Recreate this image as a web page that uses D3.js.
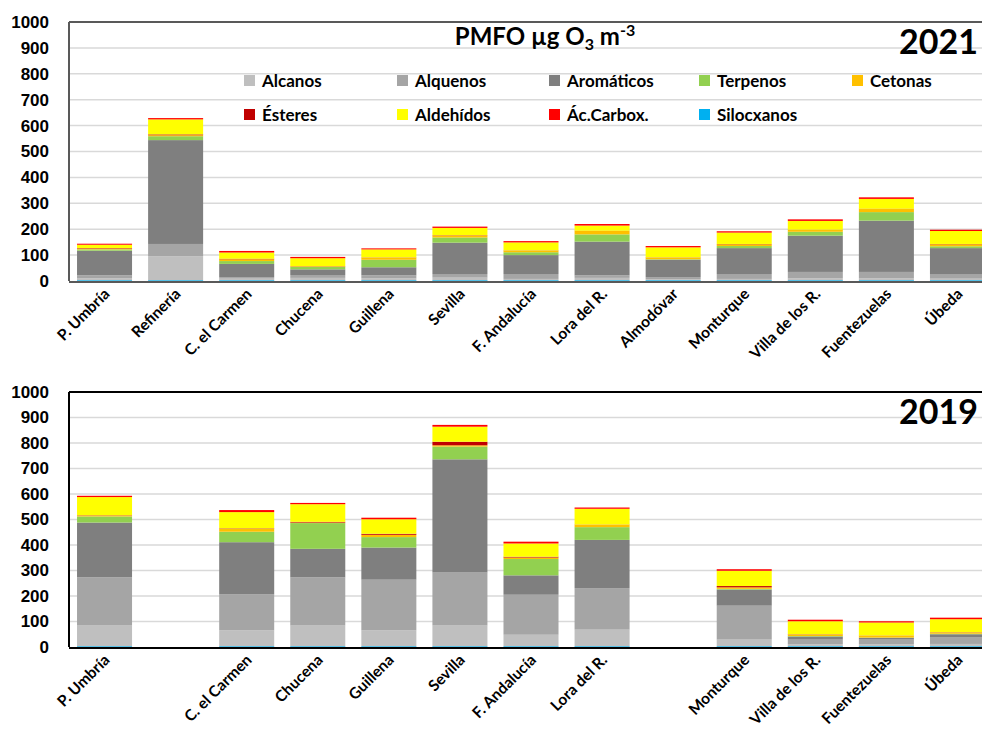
<!DOCTYPE html>
<html>
<head>
<meta charset="utf-8">
<script src="https://cdn.jsdelivr.net/npm/d3@7"></script>
<style>
  body { margin: 0; background: #fff; }
  svg { display: block; font-family: Lato, "Liberation Sans", sans-serif; }
  .tick-label { font-size: 17px; font-weight: bold; fill: #000; }
  .cat-label { font-size: 15.5px; font-weight: bold; fill: #000; }
  .legend-label { font-size: 17px; font-weight: bold; fill: #000; }
</style>
</head>
<body>
<svg width="982" height="744"></svg>
<script>
// Categories and series
const stations = ['P. Umbría', 'Refinería', 'C. el Carmen', 'Chucena', 'Guillena', 'Sevilla',
  'F. Andalucía', 'Lora del R.', 'Almodóvar', 'Monturque', 'Villa de los R.', 'Fuentezuelas', 'Úbeda']
const groups = ['Alcanos', 'Alquenos', 'Aromáticos', 'Terpenos', 'Cetonas', 'Ésteres', 'Aldehídos', 'Ác.Carbox.', 'Silocxanos']
const colors = ['#BFBFBF', '#A5A5A5', '#7F7F7F', '#92D050', '#FFC000', '#C00000', '#FFFF00', '#FF0000', '#00B0F0']
const yTicks = [0, 100, 200, 300, 400, 500, 600, 700, 800, 900, 1000]

// 2021 values per group (one value per station)
const silocxanos2021 = [3, 3, 3, 3, 3, 3, 3, 3, 3, 3, 3, 3, 3]
const alcanos2021    = [7, 92, 6, 9, 7, 10, 5, 9, 4, 5, 7, 7, 6]
const alquenos2021   = [12, 48, 6, 11, 12, 14, 19, 10, 8, 19, 25, 25, 18]
const aromaticos2021 = [95, 401, 51, 22, 31, 121, 73, 130, 67, 100, 140, 198, 100]
const terpenos2021   = [5, 15, 11, 9, 29, 20, 11, 28, 2, 8, 15, 33, 7]
const cetonas2021    = [3, 4, 7, 2, 8, 8, 6, 13, 6, 7, 7, 12, 8]
const esteres2021    = [2, 3, 2, 1, 1, 1, 1, 1, 1, 1, 1, 1, 1]
const aldehidos2021  = [13, 58, 24, 31, 31, 28, 31, 20, 39, 44, 34, 38, 50]
const carbox2021     = [4, 5, 6, 5, 4, 5, 5, 6, 5, 5, 6, 6, 5]

// 2019 values per group (Refinería and Almodóvar have no data)
const silocxanos2019 = [3, 0, 3, 3, 3, 3, 3, 3, 0, 3, 3, 3, 3]
const alcanos2019    = [81, 0, 62, 81, 62, 81, 45, 65, 0, 26, 8, 8, 9]
const alquenos2019   = [189, 0, 141, 189, 199, 208, 157, 163, 0, 133, 18, 18, 27]
const aromaticos2019 = [215, 0, 205, 112, 126, 444, 76, 189, 0, 63, 12, 7, 11]
const terpenos2019   = [24, 0, 41, 101, 41, 50, 64, 50, 0, 3, 2, 1, 2]
const cetonas2019    = [4, 0, 11, 2, 9, 5, 6, 9, 0, 6, 6, 7, 5]
const esteres2019    = [1, 0, 2, 3, 4, 14, 3, 1, 0, 5, 1, 1, 1]
const aldehidos2019  = [71, 0, 64, 69, 57, 59, 52, 62, 0, 60, 51, 51, 51]
const carbox2019     = [5, 0, 8, 5, 6, 7, 7, 5, 0, 6, 6, 5, 6]

function buildRows(lists) {
    return stations.map((s, i) => {
        let row = { station: s }
        groups.forEach((g, j) => { row[g] = lists[j][i] })
        return row
    })
}

const data2021 = buildRows([alcanos2021, alquenos2021, aromaticos2021, terpenos2021, cetonas2021,
    esteres2021, aldehidos2021, carbox2021, silocxanos2021])
const data2019 = buildRows([alcanos2019, alquenos2019, aromaticos2019, terpenos2019, cetonas2019,
    esteres2019, aldehidos2019, carbox2019, silocxanos2019])

// Silocxanos sits at the very bottom of each column
const stackKeys = ['Silocxanos'].concat(groups.slice(0, 8))
const color = d3.scaleOrdinal().domain(groups).range(colors)

const svg = d3.select('svg')
const left = 69
const right = 993
const c45 = Math.SQRT1_2

function drawPanel(dataset, top, bottom, year, frameColor) {
    let x = d3.scaleBand().domain(stations).range([left, right]).paddingInner(0.226).paddingOuter(0.113)
    let y = d3.scaleLinear().domain([0, 1000]).range([bottom, top])

    let g = svg.append('g')

    // gridlines
    g.append('g')
        .selectAll('line')
        .data(yTicks.filter(d => d > 0 && d < 1000))
        .enter()
        .append('line')
        .attr('x1', left).attr('x2', right)
        .attr('y1', d => y(d)).attr('y2', d => y(d))
        .attr('stroke', '#D9D9D9')
        .attr('stroke-width', 1.5)

    // y axis tick labels
    let axisY = d3.axisLeft(y).tickValues(yTicks).tickFormat(d3.format('d')).tickSize(0).tickPadding(20)
    let ay = g.append('g').attr('transform', `translate(${left},0)`).call(axisY)
    ay.select('.domain').remove()
    ay.selectAll('text').attr('class', 'tick-label').attr('font-family', null).attr('font-size', null)

    // stacked bars
    let series = d3.stack().keys(stackKeys)(dataset)
    g.append('g')
        .selectAll('g')
        .data(series)
        .enter()
        .append('g')
        .attr('fill', d => color(d.key))
        .selectAll('rect')
        .data(d => d)
        .enter()
        .append('rect')
        .attr('x', d => x(d.data.station))
        .attr('width', x.bandwidth())
        .attr('y', d => y(d[1]))
        .attr('height', d => Math.max(0, y(d[0]) - y(d[1])))

    // frame: top and left border, bottom axis
    g.append('line').attr('x1', left).attr('x2', right).attr('y1', top).attr('y2', top)
        .attr('stroke', frameColor).attr('stroke-width', 2)
    g.append('line').attr('x1', left).attr('x2', left).attr('y1', top).attr('y2', bottom)
        .attr('stroke', frameColor).attr('stroke-width', 2)
    g.append('line').attr('x1', left).attr('x2', right).attr('y1', bottom + 1).attr('y2', bottom + 1)
        .attr('stroke', frameColor).attr('stroke-width', 2)

    // category labels, rotated 45 degrees (hidden when no data for that year)
    g.append('g')
        .selectAll('text')
        .data(dataset.filter(d => d3.sum(groups, k => d[k]) > 0))
        .enter()
        .append('text')
        .attr('class', 'cat-label')
        .attr('text-anchor', 'end')
        .attr('transform', d => {
            let tx = x(d.station) + x.bandwidth() / 2 + 6
            let ty = bottom + 14
            return `matrix(${c45},${-c45},${c45},${c45},${tx},${ty})`
        })
        .text(d => d.station)

    // year label
    g.append('text')
        .attr('x', 978)
        .attr('y', top + 32)
        .attr('text-anchor', 'end')
        .attr('font-size', 34)
        .attr('font-weight', 'bold')
        .text(year)
}

drawPanel(data2021, 22, 281, '2021', '#595959')
drawPanel(data2019, 392, 647, '2019', '#000')

// Title
let title = svg.append('text')
    .attr('x', 545)
    .attr('y', 45)
    .attr('text-anchor', 'middle')
    .attr('font-size', 24)
    .attr('font-weight', 'bold')
title.append('tspan').text('PMFO µg O')
title.append('tspan').attr('font-size', 16).attr('dy', 5).text('3')
title.append('tspan').attr('dy', -5).text(' m')
title.append('tspan').attr('font-size', 16).attr('dy', -9).text('-3')

// Legend
const legendX = [244, 397, 549, 699, 852]
const legendY = [81, 115]
let legend = svg.append('g')
    .selectAll('g')
    .data(groups)
    .enter()
    .append('g')
    .attr('transform', (d, i) => `translate(${legendX[i % 5]},${legendY[Math.floor(i / 5)]})`)
legend.append('rect')
    .attr('x', 0).attr('y', -6)
    .attr('width', 11).attr('height', 11)
    .attr('fill', d => color(d))
legend.append('text')
    .attr('class', 'legend-label')
    .attr('x', 18)
    .attr('dy', '0.35em')
    .text(d => d)
</script>
</body>
</html>
